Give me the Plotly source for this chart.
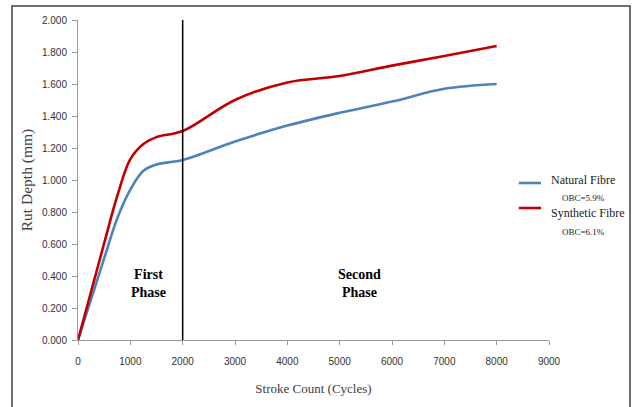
import plotly.graph_objects as go

cycles = [0, 500, 750, 1000, 1250, 1500, 2000, 3000, 4000, 5000, 6000, 7000, 8000]
natural = [0.000, 0.510, 0.760, 0.940, 1.058, 1.097, 1.125, 1.240, 1.340, 1.420, 1.490, 1.570, 1.600]
synthetic = [0.000, 0.605, 0.900, 1.130, 1.225, 1.268, 1.306, 1.500, 1.610, 1.650, 1.715, 1.775, 1.838]
phase_boundary = 2000
x_ticks = [0, 1000, 2000, 3000, 4000, 5000, 6000, 7000, 8000, 9000]
y_ticks = [0.0, 0.2, 0.4, 0.6, 0.8, 1.0, 1.2, 1.4, 1.6, 1.8, 2.0]

serif = "Liberation Serif, Times New Roman, serif"
sans = "Liberation Sans, Arial, sans-serif"

fig = go.Figure()
fig.add_trace(go.Scatter(x=cycles, y=natural, mode="lines", name="Natural Fibre",
                         line=dict(color="#4F81BD", width=2.6, shape="spline", smoothing=1.0)))
fig.add_trace(go.Scatter(x=cycles, y=synthetic, mode="lines", name="Synthetic Fibre",
                         line=dict(color="#C00000", width=2.6, shape="spline", smoothing=1.0)))
fig.add_trace(go.Scatter(x=[phase_boundary, phase_boundary], y=[0, 2.0], mode="lines",
                         line=dict(color="black", width=1.5), showlegend=False))

fig.update_layout(
    width=634, height=407,
    margin=dict(l=78, r=85, t=20, b=67),
    paper_bgcolor="white", plot_bgcolor="white",
    showlegend=False,
    xaxis=dict(range=[0, 9000], tickvals=x_ticks, ticks="outside", ticklen=4,
               tickcolor="#9a9a9a", showline=True, linecolor="#9a9a9a", linewidth=1,
               showgrid=False, zeroline=False, ticklabelstandoff=8,
               tickfont=dict(family=sans, size=10, color="#333333"),
               title=dict(text="Stroke Count (Cycles)", standoff=17,
                          font=dict(family=serif, size=13, color="#404040"))),
    yaxis=dict(range=[0, 2.0], tickvals=y_ticks, tickformat=".3f", ticks="outside", ticklen=5,
               tickcolor="#9a9a9a", showline=True, linecolor="#9a9a9a", linewidth=1,
               showgrid=False, zeroline=False, ticklabelstandoff=3,
               tickfont=dict(family=sans, size=10, color="#333333"),
               title=dict(text="Rut Depth (mm)", standoff=5,
                          font=dict(family=serif, size=15.5, color="#404040"))),
)

# outer frame
fig.add_shape(type="rect", xref="paper", yref="paper", x0=-0.1401, x1=1.172, y0=-0.3, y1=1.04375,
              line=dict(color="#404040", width=1.5), fillcolor="rgba(0,0,0,0)", layer="below")

# phase labels
fig.add_annotation(x=1338, y=0.353, text="<b>First</b><br><b>Phase</b>", showarrow=False,
                   font=dict(family=serif, size=14, color="black"))
fig.add_annotation(x=5370, y=0.353, text="<b>Second</b><br><b>Phase</b>", showarrow=False,
                   font=dict(family=serif, size=14, color="black"))

# custom legend
fig.add_shape(type="line", xref="paper", yref="paper", x0=0.936, x1=0.983, y0=0.4906, y1=0.4906,
              line=dict(color="#4F81BD", width=2.6))
fig.add_shape(type="line", xref="paper", yref="paper", x0=0.936, x1=0.983, y0=0.4125, y1=0.4125,
              line=dict(color="#C00000", width=2.6))
leg = [("Natural Fibre", 1.0, 0.5, 12), ("OBC=5.9%", 1.0234, 0.4438, 9),
       ("Synthetic Fibre", 1.0, 0.397, 12), ("OBC=6.1%", 1.0234, 0.3375, 9)]
for txt, xx, yy, sz in leg:
    fig.add_annotation(xref="paper", yref="paper", x=xx, y=yy, text=txt, showarrow=False,
                       xanchor="left", yanchor="middle",
                       font=dict(family=serif, size=sz, color="#1a1a1a"))

fig.write_html("out.html")
